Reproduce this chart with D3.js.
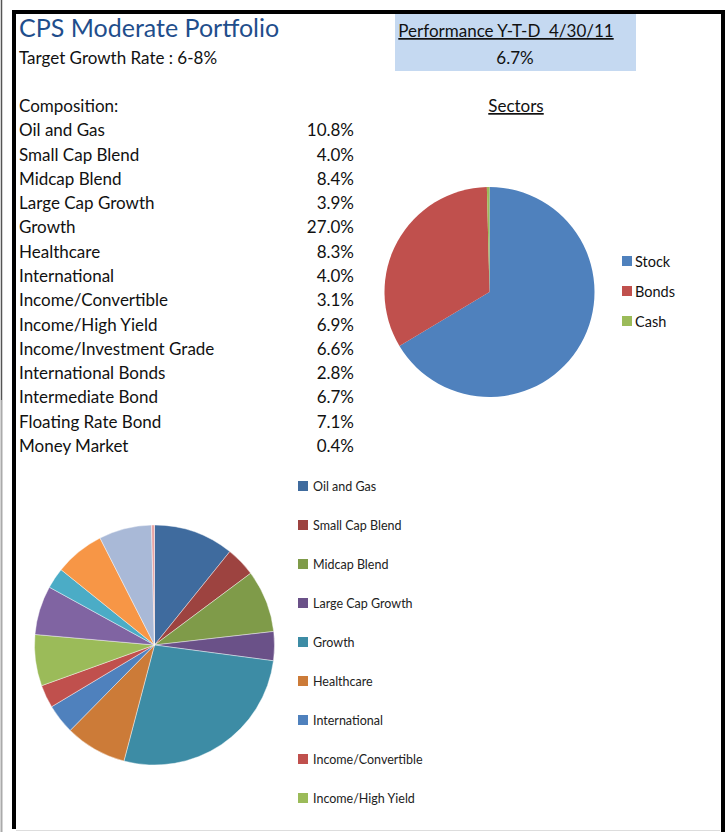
<!DOCTYPE html>
<html>
<head>
<meta charset="utf-8">
<script src="https://cdn.jsdelivr.net/npm/d3@7"></script>
<style>
  body { margin: 0; background: #fff; }
  svg { display: block; font-family: Lato, "Open Sans", sans-serif; }
  text { white-space: pre; }
</style>
</head>
<body>
<svg id="chart"></svg>
<script>
// portfolio composition
const categories = ['Oil and Gas', 'Small Cap Blend', 'Midcap Blend', 'Large Cap Growth', 'Growth',
  'Healthcare', 'International', 'Income/Convertible', 'Income/High Yield', 'Income/Investment Grade',
  'International Bonds', 'Intermediate Bond', 'Floating Rate Bond', 'Money Market'];
const weights = [10.8, 4.0, 8.4, 3.9, 27.0, 8.3, 4.0, 3.1, 6.9, 6.6, 2.8, 6.7, 7.1, 0.4];
const categoryColors = ['#3f6b9e', '#9d4340', '#7f9b49', '#6a5188', '#3d8ca5', '#cc7b38', '#4f81bd',
  '#c0504d', '#9bbb59', '#8064a2', '#4bacc6', '#f79646', '#a9b9d7', '#e7a4a3'];

// sectors
const sectors = ['Stock', 'Bonds', 'Cash'];
const sectorValues = [66.4, 33.2, 0.4];
const sectorColors = ['#4f81bd', '#c0504d', '#9bbb59'];

const title = 'CPS Moderate Portfolio';
const target = 'Target Growth Rate : 6-8%';
const perfLabel = 'Performance Y-T-D  4/30/11';
const perfValue = '6.7%';

const W = 726, H = 832;
const svg = d3.select('#chart').attr('width', W).attr('height', H);

// page frame
svg.append('line').attr('x1', 1.5).attr('x2', 1.5).attr('y1', 0).attr('y2', 400)
  .attr('stroke', '#555').attr('stroke-width', 1.5);
svg.append('line').attr('x1', 1.5).attr('x2', 1.5).attr('y1', 400).attr('y2', H)
  .attr('stroke', '#aaa').attr('stroke-width', 2);
svg.append('line').attr('x1', 16).attr('x2', 720).attr('y1', 830.5).attr('y2', 830.5)
  .attr('stroke', '#ddd');
svg.append('path')
  .attr('d', `M14,${H - 3} L14,12 L723,12 L723,${H}`)
  .attr('fill', 'none').attr('stroke', '#000').attr('stroke-width', 4);

// performance box
svg.append('rect').attr('x', 395).attr('y', 14).attr('width', 241).attr('height', 57)
  .attr('fill', '#c5d9f1');
svg.append('text').attr('x', 506).attr('y', 37).attr('text-anchor', 'middle')
  .style('font-size', '17px').style('text-decoration', 'underline').attr('fill', '#111')
  .text(perfLabel);
svg.append('text').attr('x', 515).attr('y', 64).attr('text-anchor', 'middle')
  .style('font-size', '17px').attr('fill', '#111').text(perfValue);

// header
svg.append('text').attr('x', 19).attr('y', 37).style('font-size', '25px')
  .attr('fill', '#1f4e8c').text(title);
svg.append('text').attr('x', 19).attr('y', 64).style('font-size', '17px')
  .attr('fill', '#111').text(target);

// composition table
const rowY = d3.scaleLinear().domain([0, categories.length]).range([112, 452]);
const table = svg.append('g').style('font-size', '17px').attr('fill', '#111');
table.append('text').attr('x', 19).attr('y', rowY(0)).text('Composition:');
table.selectAll('text.name').data(categories).join('text').attr('class', 'name')
  .attr('x', 19).attr('y', (d, i) => rowY(i + 1)).text(d => d);
table.selectAll('text.val').data(weights).join('text').attr('class', 'val')
  .attr('x', 354).attr('y', (d, i) => rowY(i + 1)).attr('text-anchor', 'end')
  .text(d => d3.format('.1f')(d) + '%');

// sectors pie
svg.append('text').attr('x', 516).attr('y', 112).attr('text-anchor', 'middle')
  .style('font-size', '17px').style('text-decoration', 'underline').attr('fill', '#111')
  .text('Sectors');

const pie = d3.pie().sort(null).value(d => d.v);
const sectorArc = d3.arc().innerRadius(0).outerRadius(105);
const sectorData = sectors.map((k, i) => ({ k, v: sectorValues[i], c: sectorColors[i] }));
svg.append('g').attr('transform', 'translate(489.5,292)')
  .selectAll('path').data(pie(sectorData)).join('path')
  .attr('d', sectorArc).attr('fill', d => d.data.c);

const sLegend = svg.append('g').attr('transform', 'translate(622,256)');
sectorData.forEach((d, i) => {
  const row = sLegend.append('g').attr('transform', `translate(0,${i * 30})`);
  row.append('rect').attr('width', 10).attr('height', 10).attr('fill', d.c);
  row.append('text').attr('x', 13).attr('y', 10.5).style('font-size', '14.5px')
    .attr('fill', '#111').text(d.k);
});

// composition pie
const compArc = d3.arc().innerRadius(0).outerRadius(120);
const compData = categories.map((k, i) => ({ k, v: weights[i], c: categoryColors[i] }));
svg.append('g').attr('transform', 'translate(154.5,645)')
  .selectAll('path').data(pie(compData)).join('path')
  .attr('d', compArc).attr('fill', d => d.data.c)
  .attr('stroke', '#fff').attr('stroke-width', 0.6).attr('stroke-opacity', 0.7);

// legend is cut by the sheet's edge, like the original: only rows that fit are shown
const legendTop = 481, legendStep = 39, legendBottom = 815;
const shown = compData.filter((d, i) => legendTop + i * legendStep + 12 <= legendBottom);
const cLegend = svg.append('g').attr('transform', `translate(298,${legendTop})`);
shown.forEach((d, i) => {
  const row = cLegend.append('g').attr('transform', `translate(0,${i * legendStep})`);
  row.append('rect').attr('width', 10).attr('height', 10).attr('fill', d.c);
  row.append('text').attr('x', 15).attr('y', 9.5).style('font-size', '12.5px')
    .attr('fill', '#222').text(d.k);
});
</script>
</body>
</html>
